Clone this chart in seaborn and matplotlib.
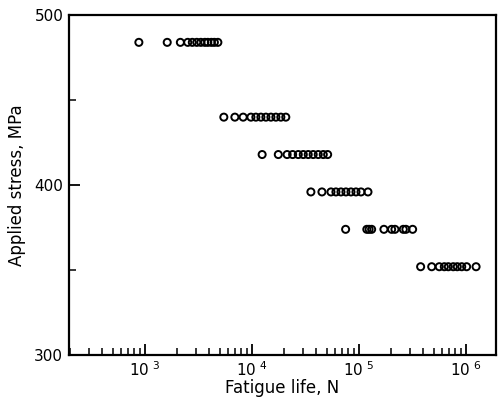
import matplotlib
matplotlib.use('Agg')
import matplotlib.pyplot as plt
import matplotlib.ticker as mticker
import numpy as np
import pandas as pd
import seaborn as sns

# fatigue lives (cycles), one list per stress level
life_484=[880,1620,2150,2520,2780,3060,3340,3640,3880,4190,4470,4820]
life_440=[5480,6950,8310,9820,10920,12170,13550,15100,16800,18700,20800]
life_418=[12500,17700,21400,24100,27200,30300,33700,37500,41800,46600,51200]
life_396=[35700,45300,55000,61200,68200,75900,84600,94200,105000,122000]
life_374=[75400,119000,125000,132000,172000,203000,218000,261000,276000,319000]
life_352=[379000,481000,566000,631000,688000,765000,834000,918000,1020000,1250000]
stress=[484,440,418,396,374,352]

lives=[life_484,life_440,life_418,life_396,life_374,life_352]
rows=[]
for s,L in zip(stress,lives):
    for n in L:
        rows.append((n,s))
df=pd.DataFrame(rows,columns=['N','stress'])

sns.set_style('ticks')
plt.rcParams['font.family']=['DejaVu Sans']
plt.rcParams['mathtext.fontset']='dejavusans'
plt.rcParams['text.color']='black'
plt.rcParams['axes.labelcolor']='black'
plt.rcParams['xtick.color']='black'
plt.rcParams['ytick.color']='black'
plt.rcParams['axes.edgecolor']='black'

fig=plt.figure(figsize=(4.99,3.99),dpi=100)
ax=fig.add_axes([0.138,0.110,0.856,0.852])

sns.scatterplot(data=df,x='N',y='stress',ax=ax,marker='o',s=26,
                facecolors='none',edgecolor='black',linewidth=1.4)

ax.set_xscale('log')
ax.set_xlim(195,1.92e6)
ax.set_ylim(300,500)

ax.xaxis.set_major_locator(mticker.FixedLocator([1e3,1e4,1e5,1e6]))
ax.xaxis.set_major_formatter(mticker.FixedFormatter([r'$10^{\,\,3}$',r'$10^{\,\,4}$',r'$10^{\,\,5}$',r'$10^{\,\,6}$']))
ax.xaxis.set_minor_locator(mticker.LogLocator(base=10,subs=np.arange(2,10)))
ax.xaxis.set_minor_formatter(mticker.NullFormatter())

ax.yaxis.set_major_locator(mticker.FixedLocator([300,400,500]))
ax.yaxis.set_minor_locator(mticker.FixedLocator([350,450]))

ax.tick_params(axis='both',which='major',direction='in',length=8,width=1.3,labelsize=11,pad=4)
ax.tick_params(axis='both',which='minor',direction='in',length=5,width=1.1)
ax.tick_params(top=False,right=False,which='both')

for sp in ax.spines.values():
    sp.set_linewidth(1.6)
    sp.set_visible(True)
    sp.set_color('black')

ax.set_xlabel('Fatigue life, N',fontsize=12,labelpad=0)
ax.set_ylabel('Applied stress, MPa',fontsize=12,labelpad=6)

fig.savefig('out.png',dpi=100)
